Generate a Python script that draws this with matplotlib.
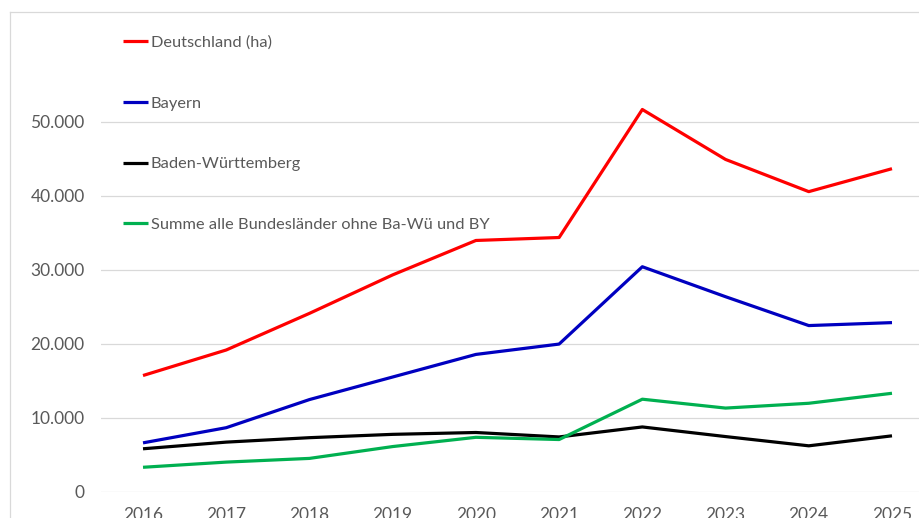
import matplotlib
matplotlib.use("Agg")
import matplotlib.pyplot as plt
from matplotlib.lines import Line2D
from matplotlib.ticker import FuncFormatter

years = [2016, 2017, 2018, 2019, 2020, 2021, 2022, 2023, 2024, 2025]
deutschland = [15700, 19150, 24100, 29300, 33950, 34350, 51650, 44900, 40550, 43650]
bayern = [6600, 8650, 12450, 15500, 18550, 19950, 30400, 26350, 22450, 22850]
badenwuerttemberg = [5800, 6700, 7300, 7750, 8000, 7400, 8750, 7450, 6200, 7550]
rest = [3300, 4000, 4500, 6100, 7350, 7050, 12500, 11300, 11950, 13300]
labels = ["Deutschland (ha)", "Bayern", "Baden-Württemberg",
          "Summe alle Bundesländer ohne Ba-Wü und BY"]
colors = ["#ff0000", "#0000c0", "#000000", "#00b050"]

plt.rcParams['font.family'] = ['Lato', 'DejaVu Sans']
W, H = 920, 518
fig = plt.figure(figsize=(W / 100, H / 100), dpi=100)
ax = fig.add_axes([101.4 / W, (H - 491.7) / H, (933.6 - 101.4) / W, (491.7 - 12) / H])

for vals, lab, c in zip([deutschland, bayern, badenwuerttemberg, rest], labels, colors):
    ax.plot(years, vals, color=c, lw=2.3, label=lab, solid_capstyle='butt')

ax.set_xlim(2015.5, 2025.5)
ax.set_ylim(0, (491.7 - 12) / 74 * 10000)
ax.set_yticks([0, 10000, 20000, 30000, 40000, 50000])
ax.set_xticks(years)
ax.yaxis.set_major_formatter(FuncFormatter(lambda v, p: f"{int(v):,}".replace(",", ".")))
ax.grid(axis='y', color='#d9d9d9', lw=0.9)
ax.set_axisbelow(True)
for s in ax.spines.values():
    s.set_visible(False)
ax.tick_params(length=0, labelsize=12.5, colors='#595959')
ax.tick_params(axis='y', pad=12)
ax.tick_params(axis='x', pad=11)

ax.legend(loc='upper left', bbox_to_anchor=(123 / W, 1 - 35.5 / H), bbox_transform=fig.transFigure,
          frameon=False, borderpad=0, borderaxespad=0, fontsize=11.8, labelcolor='#595959',
          labelspacing=2.82, handlelength=1.52, handletextpad=0.18)

# chart border (cropped)
fig.add_artist(Line2D([10 / W, 1], [1 - 12 / H, 1 - 12 / H], color='#d9d9d9', lw=0.9))
fig.add_artist(Line2D([10 / W, 10 / W], [0, 1 - 12 / H], color='#d9d9d9', lw=0.9))

fig.savefig("out.png", dpi=100)
